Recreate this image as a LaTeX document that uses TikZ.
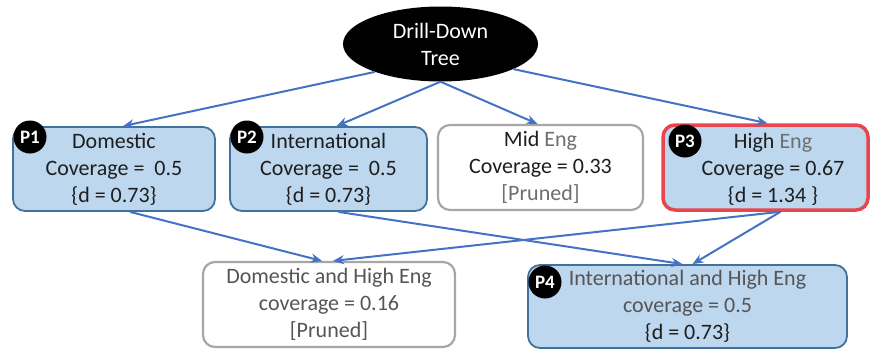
\documentclass[tikz,border=0pt]{standalone}
\usepackage{fontspec}
\setmainfont{Carlito}
\usetikzlibrary{shapes.geometric,arrows.meta}
\definecolor{boxfill}{HTML}{BDD7EE}
\definecolor{boxline}{HTML}{41719C}
\definecolor{arrowblue}{HTML}{4472C4}
\definecolor{prunedline}{HTML}{A6A6A6}
\definecolor{hilite}{HTML}{E8464E}
\definecolor{ink}{HTML}{1E1E1E}
\definecolor{soft}{HTML}{555555}
\definecolor{dim}{HTML}{6E6E6E}

\begin{document}
\begin{tikzpicture}[x=1pt,y=-1pt,
  every node/.style={font=\fontsize{22}{27}\selectfont, text=ink},
  card/.style={rectangle, rounded corners=12pt, align=center, inner sep=0pt},
  kept/.style={card, fill=boxfill, draw=boxline, line width=1.8pt},
  pruned/.style={card, fill=white, draw=prunedline, line width=2.2pt},
  chosen/.style={card, fill=boxfill, draw=hilite, line width=3.5pt},
  badge/.style={circle, fill=black, minimum size=33pt, inner sep=0pt, text=white,
    font=\fontsize{19}{19}\selectfont\bfseries},
  link/.style={draw=arrowblue, line width=2pt, -{Stealth[length=11pt,width=9pt]}}]

\useasboundingbox (0,0) rectangle (874,351);

% root of the tree
\node[ellipse, fill=black, minimum width=195pt, minimum height=75pt, inner sep=0pt,
      text=white, align=center] (root) at (440.5,44) {Drill-Down\\Tree};

% first level
\node[kept, minimum width=202pt, minimum height=84pt] (p1) at (114,169)
  {Domestic\\Coverage = \ 0.5\\\{d = 0.73\}};
\node[kept, minimum width=197pt, minimum height=84pt] (p2) at (328.5,169)
  {International\\Coverage = \ 0.5\\\{d = 0.73\}};
\node[pruned, minimum width=205pt, minimum height=85pt] (mid) at (540.5,167.5)
  {Mid {\color{dim}Eng}\\Coverage = 0.33\\{\color{dim}[Pruned]}};
\node[chosen, minimum width=205pt, minimum height=85pt] (p3) at (765.5,167.5) {};
\node[align=center] (p3text) at (773,169)
  {High {\color{dim}Eng}\\Coverage = 0.67\\\{d = 1.34\ \}};

% second level
\node[pruned, minimum width=252pt, minimum height=85pt, text=soft] (dh) at (329,304.5)
  {Domestic and High Eng\\coverage = 0.16\\\relax[Pruned]};
\node[kept, minimum width=319pt, minimum height=83pt] (p4) at (687.5,306.5)
  {{\color{soft}International and High Eng}\\{\color{soft}coverage = 0.5}\\\{d = 0.73\}};

% badges
\node[badge] (b1) at (30,137) {P1};
\node[badge] (b2) at (247,137) {P2};
\node[badge] (b3) at (685,141) {P3};
\node[badge] (b4) at (545,282) {P4};

% connectors
\draw[link] (root.203) -- ([xshift=9pt]p1.north);
\draw[link] (root.270) -- ([xshift=8pt]p2.north);
\draw[link] (root.270) -- ([xshift=-3pt]mid.north);
\draw[link] (root.341) -- ([xshift=2pt]p3.north);
\draw[link] ([xshift=16pt]p1.south) -- ([xshift=-7pt]dh.north);
\draw[link] ([xshift=15pt]p3.south) -- ([xshift=4pt]dh.north);
\draw[link] ([xshift=10pt]p2.south) -- ([xshift=-5pt]p4.north);
\draw[link] ([xshift=15pt]p3.south) -- ([xshift=5pt]p4.north);
\end{tikzpicture}
\end{document}
